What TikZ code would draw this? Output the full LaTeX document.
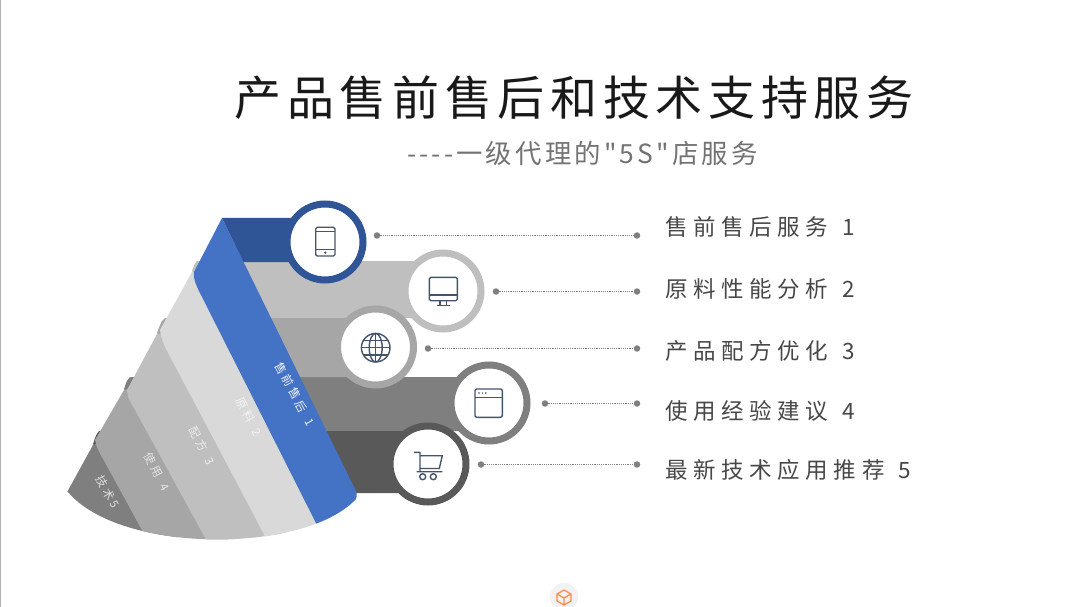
\documentclass[tikz,border=0pt]{standalone}
\usepackage{fontspec}
\usepackage{xcolor}
\usepackage{tikz}
\usetikzlibrary{shapes.geometric, arrows.meta, positioning, calc}
\setmainfont{Noto Sans CJK SC}
\newfontfamily\cjkwide[LetterSpace=12]{Noto Sans CJK SC}
\newfontfamily\cjkmid[LetterSpace=25]{Noto Sans CJK SC}
\definecolor{blueA}{HTML}{2F5597}
\definecolor{blueB}{HTML}{4472C4}
\definecolor{greyA}{HTML}{D9D9D9}
\definecolor{greyB}{HTML}{BFBFBF}
\definecolor{greyC}{HTML}{A6A6A6}
\definecolor{greyD}{HTML}{7F7F7F}
\definecolor{greyE}{HTML}{595959}
\definecolor{iconc}{HTML}{44546A}

\begin{document}
\begin{tikzpicture}[x=1pt, y=-1pt,
  ring/.style={circle, draw=#1, fill=white, line width=7pt, minimum size=76pt, inner sep=0pt},
  dotend/.style={circle, fill=greyD, minimum size=6.5pt, inner sep=0pt},
  leader/.style={greyD, line width=1.2pt, densely dotted},
  item/.style={anchor=west, inner sep=0pt, text=black!72, font=\cjkmid\fontsize{22.5}{24}\selectfont},
  tag/.style={rotate=-62, inner sep=0pt, text=#1, font=\cjkmid\fontsize{11.5}{13}\selectfont},
  icon/.style={draw=iconc, line width=1.4pt, line join=round}
]
  \useasboundingbox (0,0) rectangle (1080,607);
  \fill[white] (0,0) rectangle (1080,607);
  \draw[black!30, line width=1pt] (0.5,0) -- (0.5,607);

  \node[inner sep=0pt, font=\cjkwide\fontsize{47}{50}\selectfont, text=black!90] (title) at (574,98) {产品售前售后和技术支持服务};
  \node[inner sep=0pt, font=\cjkwide\fontsize{26.4}{28}\selectfont, text=black!55] (sub) at (582.5,153) {----一级代理的"5S"店服务};

  \fill[greyD] (130,377) .. controls (127,380) .. (124,389) -- (150,431) -- (489,431) -- (489,377) -- cycle;
  \node[ring=greyD] (win) at (489,403) {};
  \fill[greyB] (197,261) .. controls (195,263) .. (192,271) -- (215,318) -- (443,318) -- (443,261) -- cycle;
  \node[ring=greyB] (mon) at (443,291) {};
  \fill[greyE] (99,431) .. controls (96,435) .. (93,444) -- (140,493) -- (428,493) -- (428,431) -- cycle;
  \node[ring=greyE] (cart) at (428,464) {};
  \fill[greyC] (165,318) .. controls (162,320) .. (157,333) -- (190,377) -- (375,377) -- (375,318) -- cycle;
  \node[ring=greyC] (web) at (375.5,347) {};
  \fill[blueA] (222,218) -- (325,218) -- (325,262) -- (243,262) -- cycle;
  \node[ring=blueA] (tab) at (325,242) {};

  \begin{scope}
    \clip (0,0) -- (1080,0) -- (1080,499) -- (356,499) .. controls (305,554) and (120,554) .. (68,492) -- (0,492) -- cycle;
    \fill[greyD] (93,445) -- (60,505) -- (190,560) -- (125,432) -- cycle;
    \fill[greyC] (124,390) -- (95,440) .. controls (97,448) .. (102,457) -- (143,532) -- (250,560) -- (150,385) -- cycle;
    \fill[greyB] (157,334) -- (127,390) .. controls (128,398) .. (135,410) -- (209,545) -- (300,560) -- (190,335) -- cycle;
    \fill[greyA] (192,272) -- (160,330) .. controls (161,337) .. (165,347) -- (267,540) -- (345,550) -- (225,272) -- cycle;
    \fill[blueB] (222,218) -- (355,489) .. controls (358,494) and (357,499) .. (353,505) -- (322,535) -- (201,295) .. controls (195,284) and (193,276) .. (194,272) -- cycle;
  \end{scope}

  \node[tag=white!92!blueB] (tagA) at (295,394) {售前售后\hspace{9pt}1};
  \node[tag=white!70!greyA] (tagB) at (249,417) {原料\hspace{9pt}2};
  \node[tag=white!70!greyB] (tagC) at (202,446) {配方\hspace{9pt}3};
  \node[tag=white!70!greyC] (tagD) at (157,472) {使用\hspace{9pt}4};
  \node[tag=white!75!greyD] (tagE) at (108,492) {技术5};

  \draw[icon, rounded corners=1.5pt] (315.7,227.3) rectangle (335,256);
  \draw[icon] (315.7,231.7) -- (335,231.7) (315.7,249.3) -- (335,249.3);
  \fill[iconc] (325.3,252.7) circle (1.3);

  \draw[icon, rounded corners=1.5pt] (429.3,277.3) rectangle (457.3,300.7);
  \draw[icon] (429.3,295) -- (457.3,295) (440,300.7) -- (440,305.7) (446.7,300.7) -- (446.7,305.7) (436.5,305.7) -- (450,305.7);

  \draw[icon] (375.7,347.7) circle (14.3);
  \draw[icon] (375.7,347.7) ellipse (6.5 and 14.3);
  \draw[icon] (375.7,333.4) -- (375.7,362) (361.4,347.7) -- (390,347.7) (363.5,340.5) -- (388,340.5) (363.5,355) -- (388,355);

  \draw[icon, rounded corners=1.5pt] (475,389) rectangle (502.3,417.3);
  \draw[icon] (475,397.3) -- (502.3,397.3);
  \fill[iconc] (479,393) circle (0.8) (482.3,393) circle (0.8) (485.7,393) circle (0.8);

  \draw[icon] (414,452.3) -- (420,452.3) -- (420,471.7) (420,455.7) -- (442.3,455.7) -- (439.3,468.5) -- (420,468.5) (416.7,471.7) -- (442.3,471.7);
  \draw[icon] (422.7,476.7) circle (3) (433.3,476.7) circle (3);

  \node[dotend] (tabA) at (377,235.5) {};
  \node[dotend] (tabB) at (637,235.5) {};
  \node[dotend] (monA) at (496,291.5) {};
  \node[dotend] (monB) at (637,291.5) {};
  \node[dotend] (webA) at (428,348.5) {};
  \node[dotend] (webB) at (637,348.5) {};
  \node[dotend] (winA) at (545,403.5) {};
  \node[dotend] (winB) at (637,403.5) {};
  \node[dotend] (cartA) at (481,464.5) {};
  \node[dotend] (cartB) at (637,464.5) {};
  \draw[leader] (tabA) -- (tabB);
  \draw[leader] (monA) -- (monB);
  \draw[leader] (webA) -- (webB);
  \draw[leader] (winA) -- (winB);
  \draw[leader] (cartA) -- (cartB);

  \node[item] (itemA) at (665,227) {售前售后服务\hspace{14pt}1};
  \node[item] (itemB) at (665,289) {原料性能分析\hspace{14pt}2};
  \node[item] (itemC) at (665,351) {产品配方优化\hspace{14pt}3};
  \node[item] (itemD) at (665,411) {使用经验建议\hspace{14pt}4};
  \node[item] (itemE) at (665,470) {最新技术应用推荐\hspace{14pt}5};

  \node[circle, fill=black!5, minimum size=28pt, inner sep=0pt] (logo) at (564,597) {};
  \draw[draw=orange!70!red!70, line width=1.3pt, line join=round] (564,590) -- (571,594) -- (571,601) -- (564,605) -- (557,601) -- (557,594) -- cycle (557,594) -- (564,598) -- (571,594) (564,598) -- (564,605);
\end{tikzpicture}
\end{document}
